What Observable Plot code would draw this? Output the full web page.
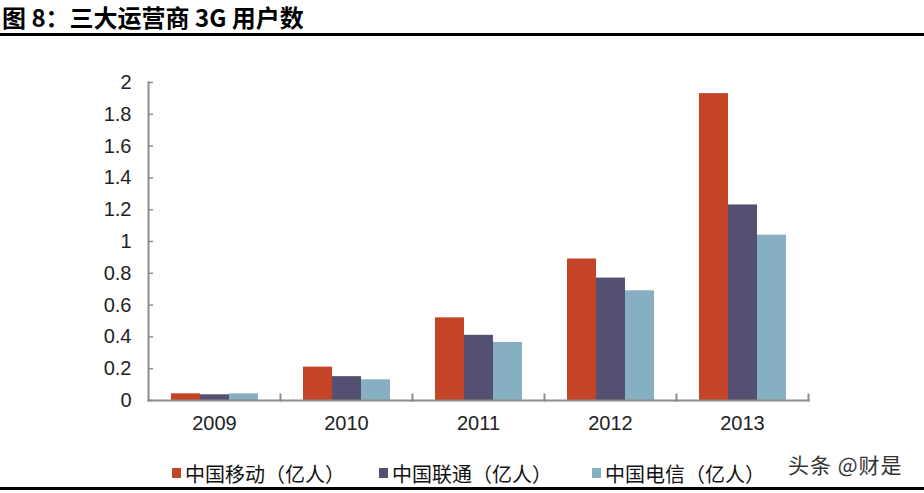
<!DOCTYPE html>
<html>
<head>
<meta charset="utf-8">
<script src="https://cdn.jsdelivr.net/npm/d3@7"></script>
<script src="https://cdn.jsdelivr.net/npm/@observablehq/plot@0.6"></script>
<style>
  html, body { margin: 0; padding: 0; background: #fff; }
  #page { position: relative; width: 924px; height: 493px; overflow: hidden; }
  #title { position: absolute; left: 2px; top: 2px; font: bold 24px "Noto Sans CJK SC", sans-serif; color: #000; line-height: 30px; white-space: nowrap; }
  #rule-top { position: absolute; left: 0; top: 33px; width: 924px; height: 3px; background: #000; }
  #rule-bottom { position: absolute; left: 0; top: 487px; width: 924px; height: 3px; background: #000; }
  #chart { position: absolute; left: 0; top: 37px; }
  .leg { position: absolute; top: 459px; height: 28px; display: flex; align-items: center; }
  .sw { width: 9px; height: 10px; margin-right: 4px; flex: none; }
  .lt { font: 20px "Noto Sans CJK SC", sans-serif; color: #111; white-space: nowrap; }
  #wm { position: absolute; left: 788px; top: 449px; font: 21px "Noto Sans CJK SC", sans-serif; color: #333; white-space: nowrap; letter-spacing: 1px; line-height: 30px; }
</style>
</head>
<body>
<div id="page">
  <div id="title"></div>
  <div id="rule-top"></div>
  <div id="chart"></div>
  <div id="legend"></div>
  <div id="wm"></div>
  <div id="rule-bottom"></div>
</div>
<script>
const titleText = "图 8：三大运营商 3G 用户数";
const watermark = "头条 @财是";
const years = ["2009", "2010", "2011", "2012", "2013"];
const series = ["中国移动（亿人）", "中国联通（亿人）", "中国电信（亿人）"];
const mobile = [0.042, 0.21, 0.52, 0.89, 1.93];
const unicom = [0.036, 0.15, 0.41, 0.77, 1.23];
const telecom = [0.042, 0.13, 0.365, 0.69, 1.04];
const yTicks = [0, 0.2, 0.4, 0.6, 0.8, 1, 1.2, 1.4, 1.6, 1.8, 2];
const colors = ["#C44427", "#545072", "#86AFC2"];

const valuesBySeries = [mobile, unicom, telecom];
const table = [];
years.forEach((yr, i) => {
  series.forEach((s, j) => table.push({year: yr, series: s, value: valuesBySeries[j][i]}));
});

document.getElementById("title").textContent = titleText;
document.getElementById("wm").textContent = watermark;

const legendLeft = [172, 379, 592];
const legend = document.getElementById("legend");
series.forEach((s, j) => {
  const item = document.createElement("div");
  item.className = "leg";
  item.style.left = legendLeft[j] + "px";
  const sw = document.createElement("span");
  sw.className = "sw";
  sw.style.background = colors[j];
  const t = document.createElement("span");
  t.className = "lt";
  t.textContent = s;
  item.appendChild(sw);
  item.appendChild(t);
  legend.appendChild(item);
});

const axisGray = "#8c8c8c";
const H = 413, MT = 45, MB = 50;
const chart = Plot.plot({
  width: 924,
  height: H,
  marginLeft: 146,
  marginRight: 115,
  marginTop: MT,
  marginBottom: MB,
  style: {fontFamily: "'Liberation Sans', Arial, sans-serif", fontSize: "20px", color: "#222", background: "#fff"},
  fx: {domain: years, padding: 0, label: null},
  x: {domain: series, paddingInner: 0, paddingOuter: 0.72, axis: null},
  y: {domain: [0, 2], axis: null},
  color: {domain: series, range: colors},
  marks: [
    Plot.barY(table, {fx: "year", x: "series", y: "value", fill: "series"}),
    Plot.frame({anchor: "bottom", stroke: axisGray, strokeWidth: 2}),
    Plot.frame({anchor: "right", stroke: axisGray, strokeWidth: 2, insetTop: H - MT - MB - 6}),
    Plot.frame({anchor: "left", facet: "super", stroke: axisGray, strokeWidth: 2}),
    Plot.axisY(yTicks, {anchor: "left", tickSize: -5, tickPadding: 22, stroke: axisGray, strokeWidth: 1.5, fill: "#222", fontSize: 20, tickFormat: d => String(d), label: null}),
    Plot.axisFx({anchor: "bottom", tickSize: 0, tickPadding: 15, fontSize: 20, fill: "#222", label: null})
  ]
});
document.getElementById("chart").appendChild(chart);
</script>
</body>
</html>
